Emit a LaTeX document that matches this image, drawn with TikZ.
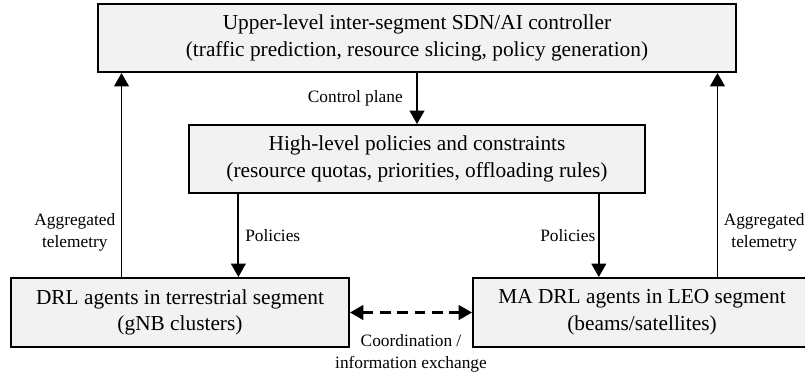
\documentclass[tikz,border=0pt]{standalone}
\usepackage{fontspec}
\setmainfont{Liberation Serif}
\usetikzlibrary{arrows.meta,calc}

\definecolor{boxfill}{RGB}{242,242,242}

\tikzset{
	box/.style={shape=rectangle,draw=black,line width=1.5pt,fill=boxfill,align=center,inner sep=0pt,font=\fontsize{16}{20}\selectfont},
	flow/.style={-{Triangle[length=10pt,width=11pt]},line width=1.4pt},
	lbl/.style={align=center,inner sep=0pt,font=\fontsize{13}{16.5}\selectfont}
}

\begin{document}
\begin{tikzpicture}[x=0.75pt,y=-0.75pt]
	\useasboundingbox (0,0) rectangle (805,376);
	% boxes
	\node[box,minimum width=478.5pt,minimum height=51pt] (ctrl) at (417,38)  {Upper-level inter-segment SDN/AI controller\\(traffic prediction, resource slicing, policy generation)};
	\node[box,minimum width=342pt,minimum height=51pt]   (pol)  at (417,159) {High-level policies and constraints\\(resource quotas, priorities, offloading rules)};
	\node[box,minimum width=253.5pt,minimum height=51.75pt] (drl) at (180,312.5) {DRL agents in terrestrial segment\\(gNB clusters)};
	\node[box,minimum width=253.5pt,minimum height=51.75pt] (leo) at (642,312.5) {MA DRL agents in LEO segment\\(beams/satellites)};
	% attachment points
	\coordinate (telL) at ($(drl.north west)!0.328!(drl.north east)$);
	\coordinate (telR) at ($(leo.north west)!0.722!(leo.north east)$);
	\coordinate (polL) at ($(pol.south west)!0.11!(pol.south east)$);
	\coordinate (polR) at ($(pol.south west)!0.897!(pol.south east)$);
	% connectors
	\draw[flow] (ctrl.south) -- node[lbl,left=10pt]{Control plane} (pol.north);
	\draw[flow] (telL) -- node[lbl,left=4pt,pos=0.22]{Aggregated\\telemetry} (telL |- ctrl.south);
	\draw[flow] (telR) -- node[lbl,right=4pt,pos=0.22]{Aggregated\\telemetry} (telR |- ctrl.south);
	\draw[flow] (polL) -- node[lbl,right=4.5pt]{Policies} (polL |- drl.north);
	\draw[flow] (polR) -- node[lbl,left=2pt]{Policies} (polR |- leo.north);
	\draw[{Triangle[length=10pt,width=11pt]}-{Triangle[length=10pt,width=11pt]},line width=1.6pt,dash pattern=on 8pt off 5pt] (drl) -- node[lbl,below=15.5pt]{Coordination /\\information exchange} (leo);
\end{tikzpicture}
\end{document}
